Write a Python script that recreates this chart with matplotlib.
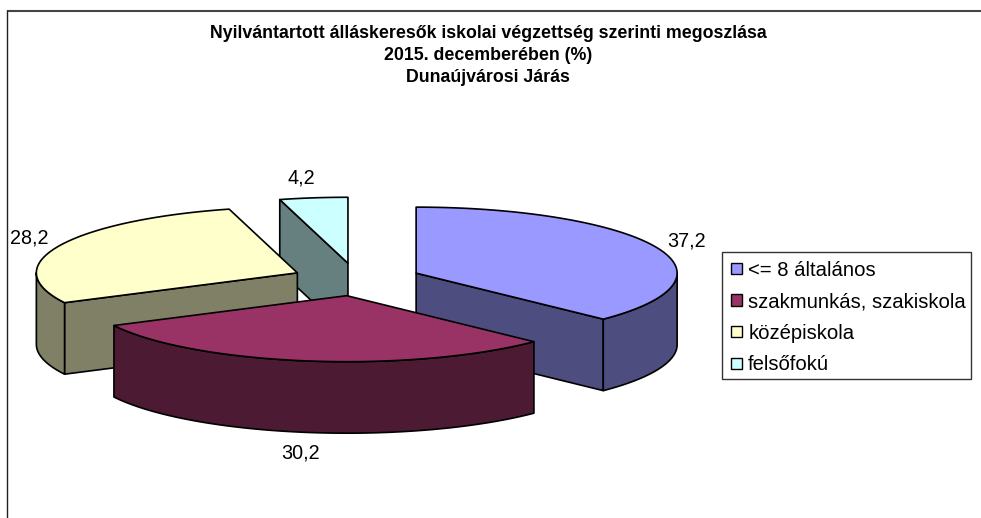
import numpy as np
import matplotlib
matplotlib.use("Agg")
import matplotlib.pyplot as plt
from matplotlib.patches import Polygon, Patch, Rectangle
from matplotlib.legend_handler import HandlerPatch

categories = ["<= 8 általános", "szakmunkás, szakiskola", "középiskola", "felsőfokú"]
values = [37.2, 30.2, 28.2, 4.2]
value_labels = ["37,2", "30,2", "28,2", "4,2"]
title_lines = ["Nyilvántartott álláskeresők iskolai végzettség szerinti megoszlása",
               "2015. decemberében (%)", "Dunaújvárosi Járás"]

top_colors = ["#9999FF", "#993366", "#FFFFCC", "#CCFFFF"]
side_colors = ["#4D4D80", "#4D1A33", "#808066", "#668080"]

plt.rcParams["font.family"] = ["Liberation Sans", "DejaVu Sans"]
W, H = 981, 518
fig = plt.figure(figsize=(W / 100, H / 100), dpi=100)
ax = fig.add_axes([0, 0, 1, 1])
ax.set_xlim(0, W)
ax.set_ylim(H, 0)
ax.axis("off")

# chart frame: only the top and left edges fall inside the picture
ax.plot([7, W], [10.5, 10.5], color="#444444", lw=1.5, solid_capstyle="butt")
ax.plot([7.3, 7.3], [10, H], color="#222222", lw=1.0, solid_capstyle="butt")

# pie projection
cx, cy = 356.5, 279.5
rx, ry = 261.0, 66.0
depth = 71.5
explode = 0.248
lw = 1.2

shares = np.array(values) / np.sum(values) * 2 * np.pi
ends = np.cumsum(shares)
starts = ends - shares
mids = (starts + ends) / 2
apex = [(cx + explode * rx * np.sin(m), cy - explode * ry * np.cos(m)) for m in mids]


def rim(a, t):
    return np.column_stack([a[0] + rx * np.sin(t), a[1] - ry * np.cos(t)])


def draw_slice(i):
    a = apex[i]
    s, e = starts[i], ends[i]
    down = np.array([0, depth])
    # radial faces that look towards the viewer
    for ang, facing in ((s, np.sin(s) < -1e-9), (e, np.sin(e) > 1e-9)):
        if facing:
            p = rim(a, np.array([ang]))[0]
            ax.add_patch(Polygon([a, p, p + down, np.array(a) + down], closed=True,
                                 fc=side_colors[i], ec="black", lw=lw, joinstyle="round"))
    # outer wall (front half only)
    lo, hi = max(s, np.pi / 2), min(e, 3 * np.pi / 2)
    if hi > lo:
        t = np.linspace(lo, hi, 80)
        r = rim(a, t)
        ax.add_patch(Polygon(np.vstack([r, (r + down)[::-1]]), closed=True,
                             fc=side_colors[i], ec="black", lw=lw, joinstyle="round"))
    # top face
    t = np.linspace(s, e, 120)
    ax.add_patch(Polygon(np.vstack([[a], rim(a, t)]), closed=True,
                         fc=top_colors[i], ec="black", lw=lw, joinstyle="round"))


for i in (3, 2, 0, 1):
    draw_slice(i)

# data labels
label_offsets = [(30, -6), (-7, 92), (-30, -8), (-12.5, -20)]
for i, lab in enumerate(value_labels):
    p = rim(apex[i], np.array([mids[i]]))[0]
    ax.text(p[0] + label_offsets[i][0], p[1] + label_offsets[i][1], lab,
            ha="center", va="center", fontsize=14.2, color="black")

# title
for y, line in zip((33, 55.5, 78), title_lines):
    ax.text(488, y, line, ha="center", va="center", fontsize=12.75, fontweight="bold", color="black")


# legend
def square(legend, orig_handle, xdescent, ydescent, width, height, fontsize):
    side = 8.0
    return Rectangle((width - side, (height - side) / 2), side, side)


ax.add_patch(Rectangle((722, 252), 249, 127, fc="white", ec="#333333", lw=1.0, zorder=4))
handles = [Patch(fc=c, ec="black", lw=1.0) for c in top_colors]
leg = ax.legend(handles, categories, loc="upper left",
                bbox_to_anchor=(730 / W, 1 - 260.5 / H), bbox_transform=fig.transFigure,
                fontsize=14.6, frameon=False,
                borderpad=0, labelspacing=0.62, handlelength=0.6, handleheight=0.7,
                handletextpad=0.3, borderaxespad=0,
                handler_map={Patch: HandlerPatch(patch_func=square)})
leg.set_zorder(5)

fig.savefig("out.png", dpi=100)
